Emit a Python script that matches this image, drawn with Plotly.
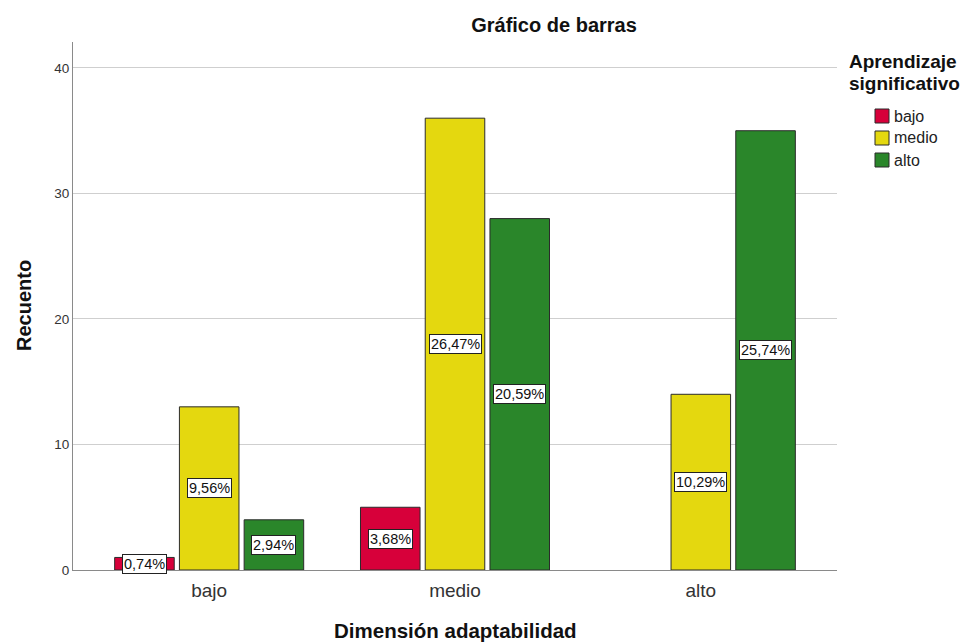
import plotly.graph_objects as go

categories = ["bajo", "medio", "alto"]
series_names = ["bajo", "medio", "alto"]
values_bajo = [1, 5, 0]
values_medio = [13, 36, 14]
values_alto = [4, 28, 35]
labels_bajo = ["0,74%", "3,68%", ""]
labels_medio = ["9,56%", "26,47%", "10,29%"]
labels_alto = ["2,94%", "20,59%", "25,74%"]
colors = ["#D7003A", "#E4D80F", "#2A862A"]

series_values = [values_bajo, values_medio, values_alto]
series_labels = [labels_bajo, labels_medio, labels_alto]

OFF = 8  # page body margin
W, H = 971 - OFF, 642 - OFF
# plot area in screen pixels
SL, SR, ST, SB = 73, 837, 42, 570
L, R, T, B = SL - OFF, SR - OFF, ST - OFF, SB - OFF
FONT = "Liberation Sans, Arial, sans-serif"

def px(x):
    return (x - SL) / (SR - SL)

def py(y):
    return (SB - y) / (SB - ST)

bargap = 0.21
bargroupgap = 0.08

fig = go.Figure()
for name, vals, col in zip(series_names, series_values, colors):
    fig.add_trace(go.Bar(
        x=categories, y=vals, name=name,
        marker=dict(color=col,
                    line=dict(color="#2b2b2b", width=[1 if v > 0 else 0 for v in vals])),
        showlegend=False, hoverinfo="x+y+name",
    ))

annotations = []
slot = (1 - bargap) / 3
for j, (vals, labs) in enumerate(zip(series_values, series_labels)):
    for i, (v, lab) in enumerate(zip(vals, labs)):
        if v <= 0 or not lab:
            continue
        annotations.append(dict(
            x=i + (j - 1) * slot, y=v / 2, xref="x", yref="y",
            text=lab, showarrow=False,
            font=dict(family=FONT, size=14.5, color="#111"),
            bgcolor="white", bordercolor="#222", borderwidth=1, borderpad=1,
        ))

# axis titles
annotations.append(dict(
    x=px(455), y=py(630), xref="paper", yref="paper", text="<b>Dimensión adaptabilidad</b>",
    showarrow=False, font=dict(family=FONT, size=20.5, color="#111"),
    xanchor="center", yanchor="middle"))
annotations.append(dict(
    x=px(24), y=py(306), xref="paper", yref="paper", text="<b>Recuento</b>",
    showarrow=False, textangle=-90, font=dict(family=FONT, size=20, color="#111"),
    xanchor="center", yanchor="middle"))

# legend (manual)
for txt, yy in [("<b>Aprendizaje</b>", 62), ("<b>significativo</b>", 83)]:
    annotations.append(dict(
        x=px(847), y=py(yy), xref="paper", yref="paper", text=txt,
        showarrow=False, font=dict(family=FONT, size=19, color="#111"),
        xanchor="left", yanchor="middle"))
shapes = []
leg_y = [116, 138, 160]
for name, col, yy in zip(series_names, colors, leg_y):
    shapes.append(dict(type="rect", xref="paper", yref="paper",
                       x0=px(875), x1=px(889), y0=py(yy - 7), y1=py(yy + 7),
                       fillcolor=col, line=dict(color="#2b2b2b", width=1)))
    annotations.append(dict(
        x=px(892), y=py(yy), xref="paper", yref="paper", text=name,
        showarrow=False, font=dict(family=FONT, size=16, color="#222"),
        xanchor="left", yanchor="middle"))

fig.update_layout(
    width=W, height=H,
    margin=dict(l=L, r=W - R, t=T, b=H - B, pad=0),
    paper_bgcolor="white", plot_bgcolor="white",
    barmode="group", bargap=bargap, bargroupgap=bargroupgap,
    title=dict(text="<b>Gráfico de barras</b>", x=(554 - OFF) / W, xanchor="center",
               y=1 - (25 - OFF) / H, yanchor="middle", xref="container", yref="container",
               font=dict(family=FONT, size=20, color="#111")),
    xaxis=dict(type="category", range=[-0.554, 2.554], showgrid=False,
               showline=True, linecolor="#8a8a8a", linewidth=1, ticks="",
               ticklabelstandoff=3,
               tickfont=dict(family=FONT, size=19, color="#333"), zeroline=False),
    yaxis=dict(range=[0, 42.07], tickvals=[0, 10, 20, 30, 40], showgrid=True,
               gridcolor="#cfcfcf", gridwidth=1, showline=True, linecolor="#8a8a8a",
               linewidth=1, ticks="", zeroline=False,
               tickfont=dict(family=FONT, size=13.5, color="#333")),
    annotations=annotations, shapes=shapes,
)

fig.write_html("out.html")
